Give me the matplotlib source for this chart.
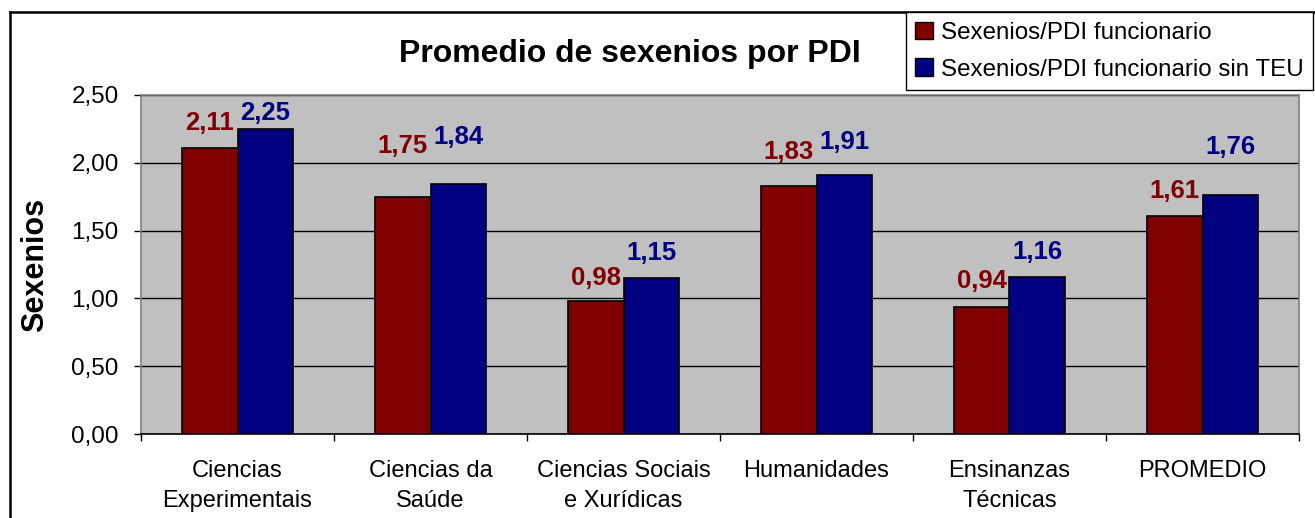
import numpy as np
import matplotlib
matplotlib.use("Agg")
import matplotlib.pyplot as plt
from matplotlib.lines import Line2D
from matplotlib.patches import Patch

plt.rcParams['font.family'] = ['Liberation Sans', 'DejaVu Sans']

# data
categories = ["Ciencias\nExperimentais", "Ciencias da\nSaúde", "Ciencias Sociais\ne Xurídicas",
              "Humanidades", "Ensinanzas\nTécnicas", "PROMEDIO"]
funcionario = [2.11, 1.75, 0.98, 1.83, 0.94, 1.61]
sin_teu = [2.25, 1.84, 1.15, 1.91, 1.16, 1.76]
series_names = ["Sexenios/PDI funcionario", "Sexenios/PDI funcionario sin TEU"]

# label baseline offsets above the bar top (points), as placed in the original
off_red = [12.6, 31.7, 11.5, 19.4, 13, 13]
off_blue = [6.5, 29.5, 13, 19, 13, 29.5]

RED = "#800000"
BLUE = "#000080"

W, H = 1315, 518
fig = plt.figure(figsize=(W / 100, H / 100), dpi=100)
ax = fig.add_axes([141 / W, 1 - 434 / H, (1299 - 141) / W, (434 - 95) / H])
ax.set_facecolor("#C0C0C0")

x = np.arange(len(categories))
bw = 0.29
ax.bar(x - bw / 2, funcionario, bw, color=RED, edgecolor="black", linewidth=1.2, zorder=3)
ax.bar(x + bw / 2, sin_teu, bw, color=BLUE, edgecolor="black", linewidth=1.2, zorder=3)

fmt = lambda v: f"{v:.2f}".replace(".", ",")
for i in range(len(categories)):
    ax.annotate(fmt(funcionario[i]), (x[i] - bw / 2, funcionario[i]), xytext=(0, off_red[i]),
                textcoords="offset points", ha="center", va="baseline",
                fontsize=18.5, fontweight="bold", color=RED, zorder=4)
    ax.annotate(fmt(sin_teu[i]), (x[i] + bw / 2, sin_teu[i]), xytext=(0, off_blue[i]),
                textcoords="offset points", ha="center", va="baseline",
                fontsize=18.5, fontweight="bold", color=BLUE, zorder=4)

ax.set_xlim(-0.5, len(categories) - 0.5)
ax.set_ylim(0, 2.5)
yt = np.arange(0, 2.51, 0.5)
ax.set_yticks(yt)
ax.set_yticklabels([fmt(v) for v in yt])
ax.yaxis.grid(True, color="black", linewidth=1, zorder=1)
ax.set_axisbelow(True)

ax.set_xticks(np.arange(-0.5, len(categories), 1))
ax.set_xticklabels([])
ax.set_xticks(x, minor=True)
ax.set_xticklabels(categories, minor=True, fontsize=17, linespacing=1.45)
ax.tick_params(axis="x", which="minor", length=0, pad=19)
ax.tick_params(axis="x", which="major", length=5, width=1, direction="out")
ax.tick_params(axis="y", length=5, width=1, direction="out", labelsize=17.5, pad=11)

for s in ["top", "right", "left"]:
    ax.spines[s].set_color("#808080")
    ax.spines[s].set_linewidth(1.2)
ax.spines["bottom"].set_color("black")
ax.spines["bottom"].set_linewidth(1.2)

fig.text(630 / W, 1 - 62 / H, "Promedio de sexenios por PDI", ha="center", va="baseline",
         fontsize=23, fontweight="bold")
fig.text(35 / W, 1 - 264.5 / H, "Sexenios", rotation=90, ha="center", va="center",
         fontsize=22, fontweight="bold")

# figure border (top and left visible)
fig.add_artist(Line2D([10 / W, 10 / W], [0, 1 - 12 / H], transform=fig.transFigure, color="black", linewidth=1.8))
fig.add_artist(Line2D([10 / W, 1], [1 - 12 / H, 1 - 12 / H], transform=fig.transFigure, color="black", linewidth=1.8))

handles = [Patch(facecolor=RED, edgecolor="black", linewidth=1),
           Patch(facecolor=BLUE, edgecolor="black", linewidth=1)]
leg = fig.legend(handles, series_names, loc="upper right", bbox_to_anchor=(1313 / W, 1 - 12 / H),
                 bbox_transform=fig.transFigure, fontsize=17.4, frameon=True, fancybox=False,
                 handlelength=0.75, handleheight=0.75, handletextpad=0.3, borderpad=0.4,
                 labelspacing=0.6, borderaxespad=0)
leg.get_frame().set_edgecolor("black")
leg.get_frame().set_linewidth(1)
leg.get_frame().set_alpha(1)

fig.savefig("out.png", dpi=100)
plt.close("all")
